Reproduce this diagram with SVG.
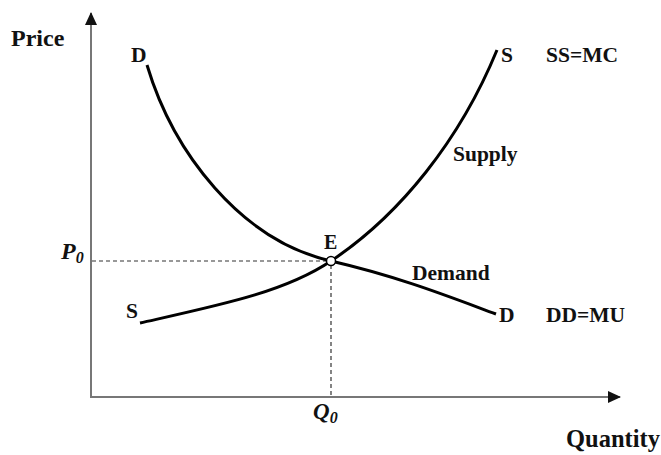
<svg xmlns="http://www.w3.org/2000/svg" width="661" height="455" viewBox="0 0 661 455">
<defs>
<marker id="ah" markerWidth="13" markerHeight="12" refX="12" refY="6" orient="auto" markerUnits="userSpaceOnUse" viewBox="0 0 13 12">
<path d="M0,0 L13,6 L0,12 z" fill="#111"/>
</marker>
</defs>
<style>
.t{font-family:"Liberation Serif",serif;font-weight:bold;fill:#111;font-size:21.5px}
.big{font-size:24px}
.ax{stroke:#777;stroke-width:2;fill:none}
.cv{stroke:#000;stroke-width:3;fill:none}
.ds{stroke:#333;stroke-width:1.2;stroke-dasharray:4,3;fill:none}
</style>
<rect width="661" height="455" fill="#fff"/>
<g id="connectors">
<line class="ax" x1="91" y1="398" x2="91" y2="13" marker-end="url(#ah)"/>
<line class="ax" x1="90" y1="397" x2="620" y2="397" marker-end="url(#ah)"/>
<path class="ds" d="M92,261 H327"/>
<path class="ds" d="M331,265 V396"/>
<path id="demand" class="cv" d="M147,65 C173,152 240,240 331,261 C400,277 450,297 496,314"/>
<path id="supply" class="cv" d="M140,323 C220,305 285,292 331,261 C400,215 460,140 497,50"/>
</g>
<g id="E"><circle cx="331" cy="261" r="4.5" fill="#fff" stroke="#000" stroke-width="1.5"/><text class="t" x="324" y="249" style="font-size:20px">E</text></g>
<g id="labels">
<text class="t big" x="11" y="46">Price</text>
<text class="t" x="131" y="62">D</text>
<text class="t" x="501" y="62">S</text>
<text class="t" x="546" y="62">SS=MC</text>
<text class="t" x="453" y="161">Supply</text>
<text class="t" x="412" y="280">Demand</text>
<text class="t" x="499" y="322">D</text>
<text class="t" x="546" y="322">DD=MU</text>
<text class="t" x="126" y="318">S</text>
<text class="t" style="font-size:24.5px" x="566" y="447">Quantity</text>
<text class="t" style="font-style:italic;font-size:24px" x="61" y="259">P<tspan font-size="16" dy="4">0</tspan></text>
<text class="t" style="font-style:italic;font-size:23px" x="313" y="419">Q<tspan font-size="16" dy="4">0</tspan></text>
</g>
</svg>
